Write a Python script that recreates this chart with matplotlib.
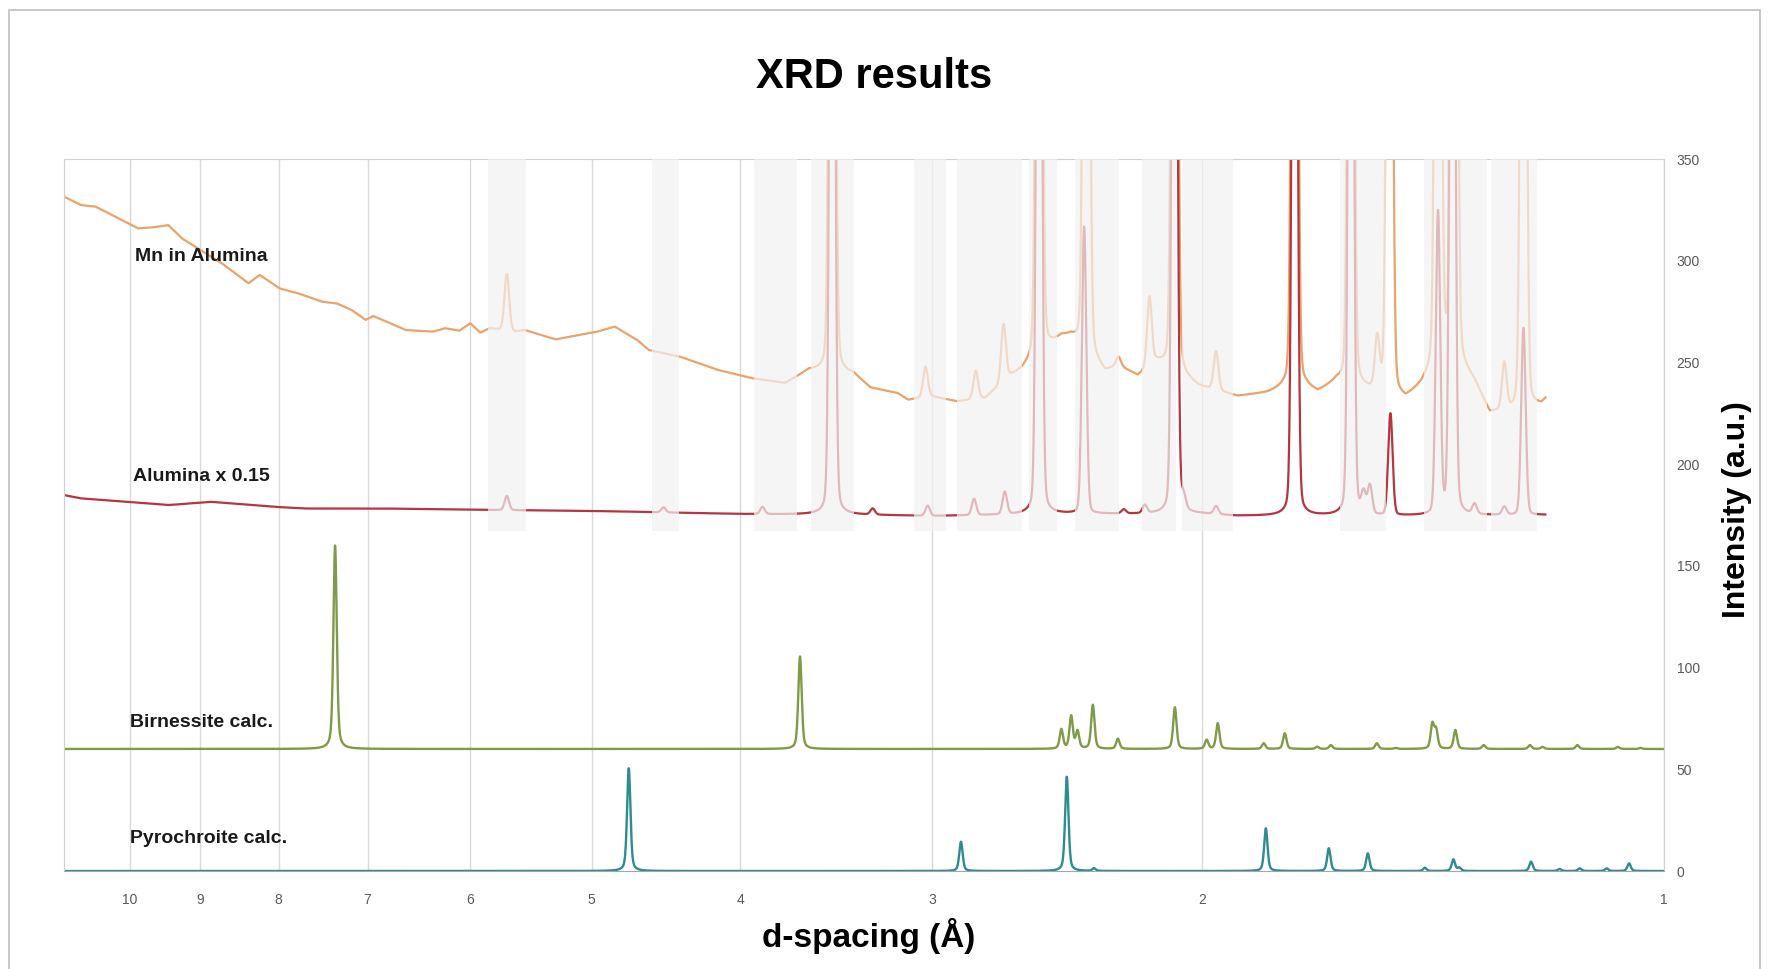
import numpy as np
import matplotlib
matplotlib.use("Agg")
import matplotlib.pyplot as plt
from matplotlib.patches import Rectangle

plt.rcParams['font.family'] = ['Liberation Sans', 'DejaVu Sans']

# ---------------- data ---------------- #
# Mn in Alumina : background points (d in Angstrom, intensity)
mn_base_d = [11.04, 10.77, 10.53, 9.88, 9.66, 9.44, 9.25, 8.71, 8.37, 8.23, 7.99, 7.77,
             7.50, 7.33, 7.17, 7.02, 6.94, 6.61, 6.35, 6.23, 6.10, 6.00, 5.91, 5.83,
             5.61, 5.53, 5.28, 4.96, 4.83, 4.67, 4.59, 4.38, 4.14, 3.93, 3.74, 3.61,
             3.375, 3.29, 3.16, 3.11, 3.00, 2.89, 2.77, 2.67, 2.62, 2.47, 2.436, 2.314,
             2.268, 2.203, 2.141, 2.01, 1.931, 1.897, 1.812, 1.771, 1.711, 1.682, 1.635,
             1.561, 1.474, 1.44, 1.383, 1.329, 1.299, 1.255, 1.202, 1.195]
mn_base_i = [331.5, 327.4, 326.6, 315.9, 316.4, 317.5, 311.0, 298.7, 288.9, 293.0, 286.4, 284.0,
             279.9, 279.0, 275.8, 270.9, 272.8, 265.9, 265.1, 266.8, 265.6, 269.2, 264.6, 266.8,
             265.1, 265.9, 261.3, 265.1, 267.6, 261.0, 256.1, 252.8, 246.3, 242.1, 239.7, 246.0,
             244.0, 237.3, 234.8, 231.5, 233.2, 230.7, 232.3, 243.0, 246.0, 262.0, 262.0, 245.0,
             248.0, 243.0, 250.0, 238.0, 234.8, 233.2, 234.8, 237.0, 237.0, 234.8, 240.0,
             236.0, 231.5, 238.0, 255.0, 240.0, 225.0, 226.0, 229.0, 231.5]
mn_peak_d = [5.68, 3.485, 3.03, 2.81, 2.695, 2.555, 2.38, 2.268, 2.165, 2.085, 1.959,
             1.741, 1.600, 1.538, 1.510, 1.404, 1.370, 1.271, 1.235]
mn_peak_h = [28, 700, 15, 14, 28, 700, 700, 4, 34, 700, 19,
             700, 700, 25, 600, 700, 700, 23, 600]

# Alumina x 0.15
al_base_d = [11.04, 10.77, 9.44, 8.86, 8.04, 7.7, 6.84, 5.85, 5.0, 4.0, 3.3, 3.0,
             2.5, 2.0, 1.9, 1.5, 1.195]
al_base_i = [184.8, 183.2, 179.9, 181.5, 179.0, 178.2, 178.2, 177.5, 177.0, 175.5, 175.0, 174.5,
             175.5, 175.5, 174.5, 174.5, 175.0]
al_peak_d = [5.68, 4.49, 3.87, 3.485, 3.28, 3.02, 2.817, 2.69, 2.555, 2.388, 2.25, 2.18,
             2.085, 2.057, 1.959, 1.741, 1.600, 1.570, 1.555, 1.508, 1.404, 1.374, 1.329,
             1.271, 1.235]
al_peak_h = [7, 2.5, 3.5, 600, 3, 5, 8, 11, 600, 141, 2, 4,
             600, 6, 4, 600, 600, 10, 14, 50, 148, 600, 5,
             4, 92]

# Birnessite calc. (baseline 60)
bir_base = 60
bir_peak_d = [7.35, 3.658, 2.471, 2.435, 2.412, 2.357, 2.27, 2.084, 1.987, 1.954, 1.824,
              1.767, 1.683, 1.649, 1.539, 1.496, 1.416, 1.408, 1.368, 1.311, 1.223, 1.20,
              1.139, 1.072, 1.036]
bir_peak_h = [100, 45.5, 9.5, 16, 8.5, 21.6, 5, 20.5, 4.4, 12.6, 2.8,
              7.7, 1.1, 1.9, 2.8, 0.5, 12, 9, 9.3, 1.9, 1.9, 1.0,
              1.9, 1.0, 0.5]

# Pyrochroite calc. (baseline 0)
pyr_base = 0
pyr_peak_d = [4.73, 2.873, 2.451, 2.353, 1.818, 1.654, 1.560, 1.432, 1.372, 1.36, 1.221,
              1.17, 1.135, 1.09, 1.054]
pyr_peak_h = [50.5, 14.4, 46.4, 1.3, 21, 11.2, 8.7, 1.6, 5.7, 1.6, 4.6,
              1.0, 1.3, 1.3, 3.8]

# shaded alumina regions (d ranges)
band_lo = [5.52, 4.385, 3.676, 3.373, 2.940, 2.621, 2.487, 2.265, 2.082, 1.909, 1.519, 1.304, 1.211]
band_hi = [5.84, 4.57, 3.92, 3.60, 3.083, 2.891, 2.594, 2.420, 2.190, 2.061, 1.626, 1.434, 1.296]

x_ticks = [10, 9, 8, 7, 6, 5, 4, 3, 2, 1]
y_ticks = [0, 50, 100, 150, 200, 250, 300, 350]


# ---------------- helpers ---------------- #
def peak_sum(logd, pos, hgt, fwhm, eta):
    out = np.zeros_like(logd)
    for p, h in zip(pos, hgt):
        x = (logd - np.log10(p)) / fwhm
        out += h * ((1 - eta) * np.exp(-4 * np.log(2) * x ** 2) + eta / (1 + 4 * x ** 2))
    return out


def background(logd, bd, bi):
    lb = np.log10(bd)[::-1]
    return np.interp(logd, lb, np.array(bi)[::-1])


logd = np.linspace(np.log10(11.04), 0.0, 10000)
d = 10 ** logd
meas = d >= 1.195

mn_y = background(logd, mn_base_d, mn_base_i) + peak_sum(logd, mn_peak_d, mn_peak_h, 0.0036, 0.12)
al_y = background(logd, al_base_d, al_base_i) + peak_sum(logd, al_peak_d, al_peak_h, 0.0034, 0.12)
bir_y = bir_base + peak_sum(logd, bir_peak_d, bir_peak_h, 0.0026, 0.45)
pyr_y = pyr_base + peak_sum(logd, pyr_peak_d, pyr_peak_h, 0.0026, 0.45)

# ---------------- plot ---------------- #
fig = plt.figure(figsize=(17.69, 9.69), dpi=100)
ax = fig.add_axes([0.0362, 0.1011, 0.9045, 0.7348])

ax.plot(d[meas], mn_y[meas], color='#E9A36B', lw=1.6, zorder=2)
ax.plot(d[meas], al_y[meas], color='#B83440', lw=1.6, zorder=2)
ax.plot(d, bir_y, color='#7F9A48', lw=1.7, zorder=2)
ax.plot(d, pyr_y, color='#2E8B8F', lw=1.7, zorder=2)

for lo, hi in zip(band_lo, band_hi):
    ax.add_patch(Rectangle((lo, 167), hi - lo, 183, facecolor='#f2f2f2', alpha=0.7,
                           lw=0, zorder=3))

ax.set_xscale('log')
ax.set_xlim(11.04, 1)
ax.set_ylim(0, 350)
ax.set_xticks(x_ticks)
ax.set_xticklabels([str(t) for t in x_ticks])
ax.xaxis.set_minor_locator(plt.NullLocator())
ax.yaxis.tick_right()
ax.set_yticks(y_ticks)
ax.tick_params(length=0, labelcolor='#595959', labelsize=10)
ax.tick_params(axis='x', pad=16)
ax.tick_params(axis='y', pad=9)
ax.grid(axis='x', color='#d9d9d9', lw=1, zorder=0)
ax.set_axisbelow(True)
for s in ['top', 'left', 'right']:
    ax.spines[s].set_color('#d0d0d0')
ax.spines['bottom'].set_color('#a6a6a6')

lab = dict(fontsize=14, fontweight='bold', color='#1a1a1a', va='center', ha='left', zorder=5)
ax.text(9.93, 302, 'Mn in Alumina', **lab)
ax.text(9.96, 194, 'Alumina x 0.15', **lab)
ax.text(10.0, 73, 'Birnessite calc.', **lab)
ax.text(10.0, 16, 'Pyrochroite calc.', **lab)

fig.text(0.494, 0.9205, 'XRD results', fontsize=30, fontweight='bold', ha='center', va='center')
fig.text(0.491, 0.034, 'd-spacing (Å)', fontsize=24, fontweight='bold', ha='center', va='center')
fig.text(0.982, 0.4737, 'Intensity (a.u.)', fontsize=23, fontweight='bold', ha='center',
         va='center', rotation=90)

fig.patches.append(Rectangle((0.005, -0.02), 0.99, 1.01, transform=fig.transFigure,
                             fill=False, edgecolor='#bfbfbf', lw=1.2))

fig.savefig('out.png', dpi=100)
